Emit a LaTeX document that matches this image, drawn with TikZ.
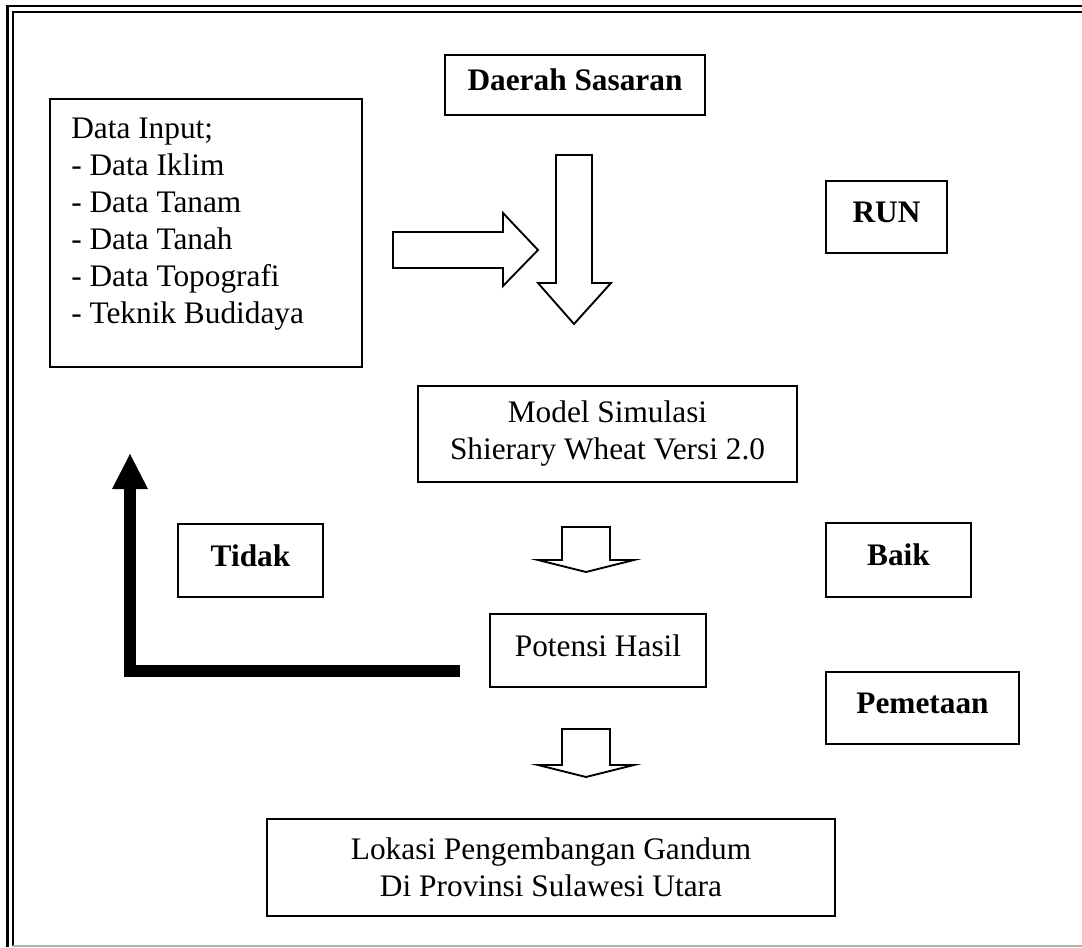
\documentclass[tikz,border=0pt]{standalone}
\usepackage{fontspec}
\setmainfont{Liberation Serif}
\usetikzlibrary{arrows.meta}

\begin{document}
\begin{tikzpicture}[x=0.75pt,y=-0.75pt,
    box/.style={draw,line width=1.4pt,inner sep=0pt,align=center,font=\fontsize{23.5}{27.75}\selectfont},
    oneline/.style={text height=15.5pt,text depth=6.9pt},
    boldbox/.style={box,oneline,font=\fontsize{23.5}{27.75}\selectfont\bfseries},
    blockarrow/.style={draw,line width=1.4pt,fill=white,line join=miter},
    backline/.style={line width=9pt,line join=miter,-{Triangle[length=26.25pt,width=27pt,line width=0pt]}}]
    \useasboundingbox (0,0) rectangle (1082,947);

    % Page frame
    \draw[line width=2pt] (7.5,947) -- (7.5,6) -- (1082,6);
    \draw[line width=1.5pt] (12.5,946) -- (12.5,11.5) -- (1082,11.5);
    \draw[gray!60,line width=0.8pt] (12.5,946) -- (1082,946);

    % Boxes
    \node[boldbox,minimum width=195pt,minimum height=45pt] (sasaran) at (575,85) {Daerah Sasaran};
    \node[box,minimum width=234pt,minimum height=201pt] (input) at (206,233) {};
    \node[anchor=north west,align=left,inner sep=0pt,font=\fontsize{23.5}{27.75}\selectfont] (inputtext) at (71,118) {Data Input;\\- Data Iklim\\- Data Tanam\\- Data Tanah\\- Data Topografi\\- Teknik Budidaya};
    \node[boldbox,minimum width=90.75pt,minimum height=54pt] (run) at (886.5,217) {RUN};
    \node[box,minimum width=284.25pt,minimum height=72pt] (model) at (607.5,434) {Model Simulasi\\Shierary Wheat Versi 2.0};
    \node[boldbox,minimum width=108.75pt,minimum height=54.75pt] (tidak) at (250.5,560.5) {Tidak};
    \node[boldbox,minimum width=108.75pt,minimum height=55.5pt] (baik) at (898.5,560) {Baik};
    \node[box,oneline,minimum width=162pt,minimum height=54.75pt] (potensi) at (598,650.5) {Potensi Hasil};
    \node[boldbox,minimum width=144.75pt,minimum height=54pt] (pemetaan) at (922.5,708) {Pemetaan};
    \node[box,minimum width=426pt,minimum height=72.75pt] (lokasi) at (551,867.5) {Lokasi Pengembangan Gandum\\Di Provinsi Sulawesi Utara};

    % Block arrows
    \draw[blockarrow] (393,232) -- (503,232) -- (503,213) -- (538,250) -- (503,286) -- (503,268) -- (393,268) -- cycle;
    \draw[blockarrow] (556,155) -- (592,155) -- (592,283) -- (611,283) -- (574,324) -- (538,283) -- (556,283) -- cycle;
    \draw[blockarrow] (562,527) -- (610,527) -- (610,560) -- (634,560) -- (586,572) -- (538,560) -- (562,560) -- cycle;
    \draw[blockarrow] (562,729) -- (610,729) -- (610,765) -- (634,765) -- (586,777) -- (538,765) -- (562,765) -- cycle;

    % Return path
    \coordinate (ret) at (460,671);
    \coordinate (turn) at (130,671);
    \coordinate (back) at (130,454);
    \draw[backline] (ret) -- (turn) -- (back);
\end{tikzpicture}
\end{document}
